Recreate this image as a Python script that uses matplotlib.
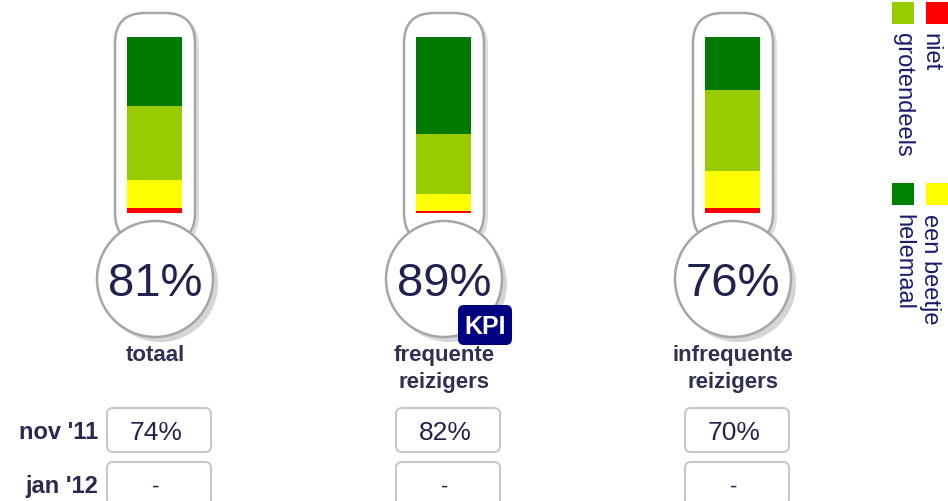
import matplotlib
matplotlib.use("Agg")
import matplotlib.pyplot as plt
from matplotlib.patches import FancyBboxPatch, Circle, Rectangle

plt.rcParams['font.family'] = ['Liberation Sans', 'DejaVu Sans']

# data (percentages, stacked bottom -> top)
categories = ['totaal', 'frequente\nreizigers', 'infrequente\nreizigers']
niet = [3, 1, 3]
een_beetje = [16, 10, 21]
grotendeels = [42, 34, 46]
helemaal = [39, 55, 30]
scores = ['81%', '89%', '76%']
row_labels = ["nov '11", "jan '12"]
nov11 = ['74%', '82%', '70%']
jan12 = ['-', '-', '-']

series = [niet, een_beetje, grotendeels, helemaal]
colors = ['#ff0000', '#ffff00', '#99cc00', '#007a00']
legend_names = ['niet', 'grotendeels', 'een beetje', 'helemaal']
legend_colors = ['#ff0000', '#99cc00', '#ffff00', '#008000']

W, H = 948, 502
centers = [155, 444, 733]
navy = '#1c1c6e'
dark = '#22224e'

fig = plt.figure(figsize=(W / 100, H / 100), dpi=100)
ax = fig.add_axes([0, 0, 1, 1])
ax.set_xlim(0, W)
ax.set_ylim(H, 0)
ax.axis('off')

for i, c in enumerate(centers):
    # tube with shadow
    ax.add_patch(FancyBboxPatch((c - 38 + 6, 17), 76, 230,
                                boxstyle='round,pad=0,rounding_size=30',
                                fc='#cfcfcf', ec='none', alpha=0.7, zorder=1))
    ax.add_patch(FancyBboxPatch((c - 40, 14), 80, 230,
                                boxstyle='round,pad=0,rounding_size=30',
                                fc='white', ec='#a6a6a6', lw=1.8, zorder=2))
    # bulb with shadow
    ax.add_patch(Circle((c + 5, 285), 58, fc='#c4c4c4', ec='none', alpha=0.7, zorder=3))
    ax.add_patch(Circle((c, 280), 58, fc='white', ec='#a6a6a6', lw=1.8, zorder=4))
    ax.text(c, 284, scores[i], ha='center', va='center', fontsize=34,
            color=dark, zorder=5)

    # label under thermometer
    ax.text(c, 345, categories[i], ha='center', va='top', fontsize=16,
            fontweight='bold', color='#303050', linespacing=1.35)

    # table boxes
    for r, vals in enumerate([nov11, jan12]):
        y0 = 409 + r * 54
        ax.add_patch(FancyBboxPatch((c - 48, y0), 104, 44,
                                    boxstyle='round,pad=0,rounding_size=6',
                                    fc='white', ec='#c8c8c8', lw=1.5, zorder=2))
        ax.text(c + 1, y0 + 24, vals[i], ha='center', va='center',
                fontsize=19 if vals[i] != '-' else 16, color=dark, zorder=3)

    # stacked bar inside tube
    bx = fig.add_axes([(c - 28) / W, (H - 214) / H, 55 / W, 176 / H])
    bottom = 0
    for vals, col in zip(series, colors):
        bx.bar([0], [vals[i]], bottom=bottom, width=1.0, color=col, lw=0)
        bottom += vals[i]
    bx.set_xlim(-0.5, 0.5)
    bx.set_ylim(0, 100)
    bx.axis('off')

for r, lab in enumerate(row_labels):
    ax.text(98, 433 + r * 54, lab, ha='right', va='center', fontsize=17,
            fontweight='bold', color='#2a2a4e')

# KPI badge
ax.add_patch(FancyBboxPatch((458, 306), 54, 40,
                            boxstyle='round,pad=0,rounding_size=6',
                            fc='#000080', ec='none', zorder=6))
ax.text(485, 327, 'KPI', ha='center', va='center', fontsize=18,
        fontweight='bold', color='white', zorder=7)

# legend (rotated)
sq_x = [926, 892, 926, 892]
txt_x = [930, 903, 930, 903]
leg_y = [3, 3, 184, 184]
for name, col, sx, tx, ly in zip(legend_names, legend_colors, sq_x, txt_x, leg_y):
    ax.add_patch(Rectangle((sx, ly), 22, 22, fc=col, ec='none'))
    ax.text(tx, ly + 30, name, rotation=270, ha='center', va='top',
            fontsize=17, color=navy)

fig.savefig('out.png', dpi=100)
